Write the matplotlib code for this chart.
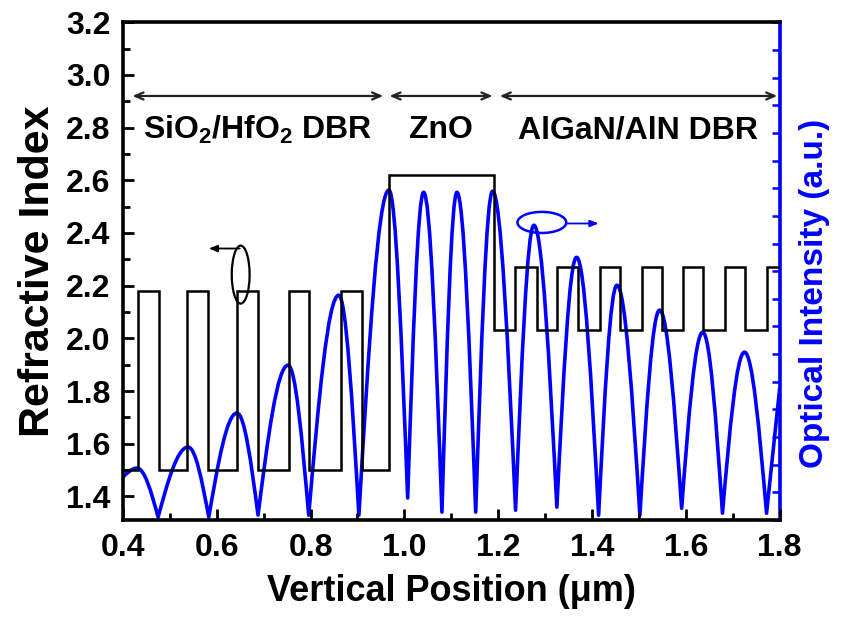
import matplotlib
matplotlib.use("Agg")
import matplotlib.pyplot as plt
from matplotlib.path import Path
from matplotlib.patches import PathPatch, Ellipse
from matplotlib.ticker import MultipleLocator

plt.rcParams["font.family"] = ["Liberation Sans", "DejaVu Sans"]
plt.rcParams["font.weight"] = "bold"
plt.rcParams["mathtext.fontset"] = "custom"
plt.rcParams["mathtext.rm"] = "Liberation Sans:bold"
plt.rcParams["mathtext.default"] = "rm"

# layer boundaries (um) and the refractive index of each layer
layer_edges = [0.400, 0.432, 0.477, 0.536, 0.581, 0.643, 0.688, 0.754, 0.796,
               0.865, 0.909, 0.967, 1.190, 1.235, 1.282, 1.325, 1.370, 1.416,
               1.459, 1.506, 1.549, 1.593, 1.636, 1.683, 1.727, 1.772, 1.800]
layer_index = [1.50, 2.18, 1.50, 2.18, 1.50, 2.18, 1.50, 2.18, 1.50, 2.18, 1.50,
               2.62,
               2.03, 2.27, 2.03, 2.27, 2.03, 2.27, 2.03, 2.27, 2.03, 2.27, 2.03,
               2.27, 2.03, 2.27]

# optical intensity: nodes (n) and antinodes (p) of the standing wave, e = plot edge
field_x = [0.400, 0.430, 0.475, 0.539, 0.583, 0.643, 0.688, 0.752, 0.796, 0.860,
           0.903, 0.967, 1.007, 1.041, 1.080, 1.112, 1.152, 1.188, 1.237, 1.276,
           1.325, 1.367, 1.414, 1.453, 1.502, 1.544, 1.591, 1.636, 1.678, 1.725,
           1.772, 1.800]
field_y = [1.55, 1.88, 0.11, 2.64, 0.11, 3.87, 0.18, 5.60, 0.18, 8.13,
           0.18, 11.93, 0.80, 11.85, 0.29, 11.85, 0.29, 11.89, 0.36, 10.66,
           0.47, 9.50, 0.18, 8.49, 0.18, 7.59, 0.43, 6.79, 0.25, 6.07,
           0.25, 4.77]
field_kind = ["e"] + ["p", "n"] * 15 + ["e"]

region_names = ["SiO$_2$/HfO$_2$ DBR", "ZnO", "AlGaN/AlN DBR"]
region_spans = [(0.420, 0.955), (0.968, 1.188), (1.203, 1.795)]


def field_path(xs, ys, kinds):
    # each half-arch is a quarter sine: steep at the node, flat at the antinode
    verts = [(xs[0], ys[0])]
    codes = [Path.MOVETO]
    for i in range(1, len(xs)):
        x0, y0, x1, y1 = xs[i - 1], ys[i - 1], xs[i], ys[i]
        dx = x1 - x0
        if kinds[i] == "p":
            pts = [(x0 + 0.326 * dx, y0 + 0.513 * (y1 - y0)), (x0 + 0.638 * dx, y1), (x1, y1)]
        elif kinds[i - 1] == "p":
            pts = [(x0 + 0.362 * dx, y0), (x0 + 0.674 * dx, y1 + 0.513 * (y0 - y1)), (x1, y1)]
        else:
            verts.append((x1, y1))
            codes.append(Path.LINETO)
            continue
        verts += pts
        codes += [Path.CURVE4] * 3
    return Path(verts, codes)


fig = plt.figure(figsize=(8.42, 6.17), dpi=100)
ax = fig.add_axes([0.146, 0.157, 0.78, 0.807])
ax2 = ax.twinx()

# intensity on the right axis, drawn underneath the index profile
ax2.add_patch(PathPatch(field_path(field_x, field_y, field_kind), fill=False,
                        edgecolor="#0000ff", lw=2.6, joinstyle="round"))
ax2.set_ylim(0, 18)
ax2.yaxis.set_major_locator(MultipleLocator(1))
ax2.tick_params(axis="y", direction="in", length=6, width=1.8, color="#0000ff",
                labelright=False)
for s in ["left", "top", "bottom"]:
    ax2.spines[s].set_visible(False)
ax2.spines["right"].set_color("#0000ff")
ax2.spines["right"].set_linewidth(2.6)
ax2.set_ylabel("Optical Intensity (a.u.)", color="#0000ff", fontsize=24,
               fontweight="bold")
ax2.yaxis.set_label_coords(1.03, 0.455)

ax.set_zorder(ax2.get_zorder() + 1)
ax.patch.set_visible(False)
ax.stairs(layer_index, layer_edges, baseline=None, color="black", lw=1.8)

for name, (x0, x1) in zip(region_names, region_spans):
    ax.annotate("", xy=(x0, 2.92), xytext=(x1, 2.92),
                arrowprops=dict(arrowstyle="<->,head_length=0.6,head_width=0.25",
                                color="#222222", lw=1.6, shrinkA=0, shrinkB=0))
    ax.text((x0 + x1) / 2, 2.79, name, ha="center", va="center",
            fontsize=23, fontweight="bold")

# markers pointing each curve to its axis
ax.add_patch(Ellipse((0.651, 2.242), 0.038, 0.22, fill=False, color="black", lw=1.6))
ax.annotate("", xy=(0.583, 2.341), xytext=(0.649, 2.341),
            arrowprops=dict(arrowstyle="-|>,head_length=0.5,head_width=0.2",
                            color="black", lw=1.3, shrinkA=0, shrinkB=0))
ax.add_patch(Ellipse((1.293, 2.44), 0.104, 0.08, fill=False, color="#0000ff", lw=1.8))
ax.annotate("", xy=(1.414, 2.436), xytext=(1.346, 2.436),
            arrowprops=dict(arrowstyle="-|>,head_length=0.5,head_width=0.2",
                            color="#0000ff", lw=1.3, shrinkA=0, shrinkB=0))

ax.set_xlim(0.4, 1.8)
ax.set_ylim(1.31, 3.2)
ax.xaxis.set_major_locator(MultipleLocator(0.2))
ax.xaxis.set_minor_locator(MultipleLocator(0.1))
ax.yaxis.set_major_locator(MultipleLocator(0.2))
ax.yaxis.set_minor_locator(MultipleLocator(0.1))
ax.tick_params(which="both", direction="in", width=2, top=False, right=False,
               labelsize=23, pad=9)
ax.tick_params(which="major", length=8)
ax.tick_params(which="minor", length=5)
for lab in ax.get_xticklabels() + ax.get_yticklabels():
    lab.set_fontweight("bold")
for s in ["left", "top", "bottom"]:
    ax.spines[s].set_linewidth(2.6)
ax.spines["right"].set_visible(False)

ax.set_xlabel("Vertical Position (\u03bcm)", fontsize=26, fontweight="bold", labelpad=8)
ax.set_ylabel("Refractive Index", fontsize=31, fontweight="bold", labelpad=6)

fig.savefig("out.png", dpi=100)
